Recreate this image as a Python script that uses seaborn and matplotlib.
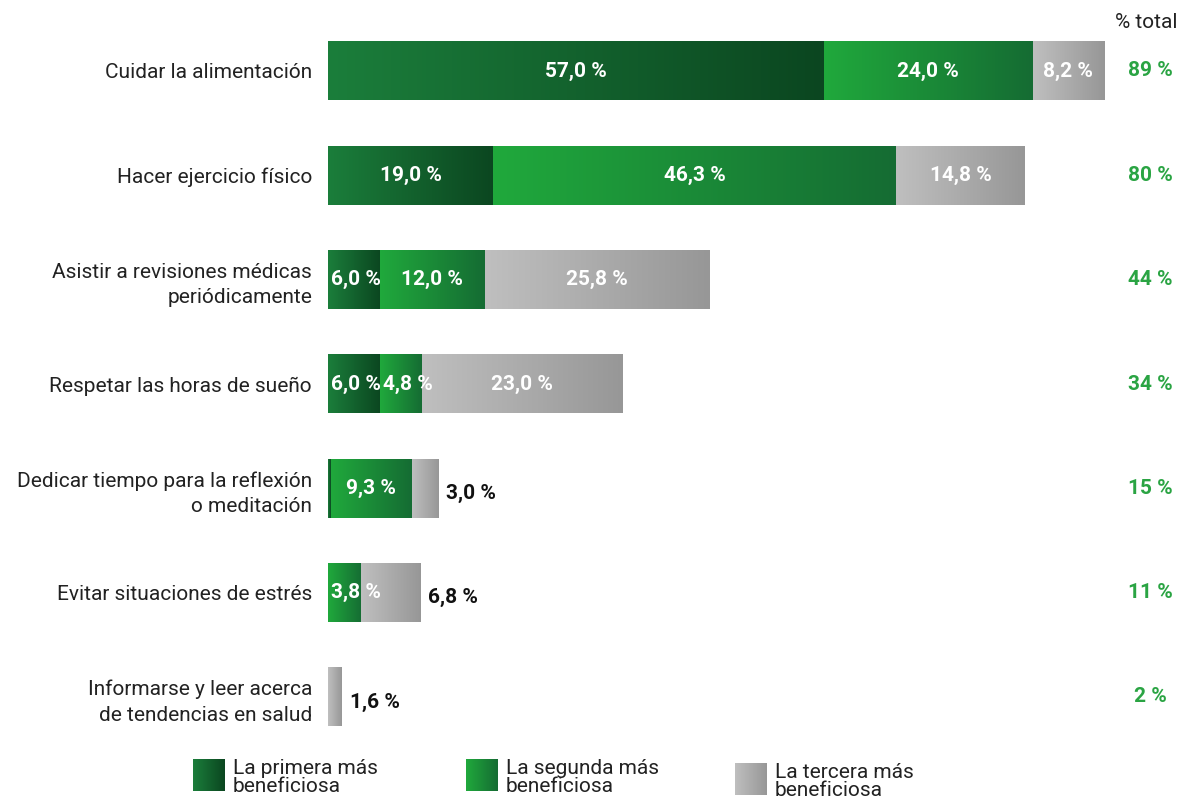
import numpy as np
import matplotlib
matplotlib.use("Agg")
import matplotlib.pyplot as plt
from matplotlib.colors import LinearSegmentedColormap
from matplotlib.transforms import blended_transform_factory
import seaborn as sns

categorias = ["Cuidar la alimentación",
              "Hacer ejercicio físico",
              "Asistir a revisiones médicas\nperiódicamente",
              "Respetar las horas de sueño",
              "Dedicar tiempo para la reflexión\no meditación",
              "Evitar situaciones de estrés",
              "Informarse y leer acerca\nde tendencias en salud"]
primera = [57.0, 19.0, 6.0, 6.0, 0.3, 0.0, 0.0]
segunda = [24.0, 46.3, 12.0, 4.8, 9.3, 3.8, 0.0]
tercera = [8.2, 14.8, 25.8, 23.0, 3.0, 6.8, 1.6]
totales = ["89 %", "80 %", "44 %", "34 %", "15 %", "11 %", "2 %"]
series = ["La primera más\nbeneficiosa", "La segunda más\nbeneficiosa", "La tercera más\nbeneficiosa"]

# degradados de cada serie (izquierda -> derecha)
cmaps = [LinearSegmentedColormap.from_list("c1", ["#1b7e3b", "#0b4620"]),
         LinearSegmentedColormap.from_list("c2", ["#20a93c", "#156c33"]),
         LinearSegmentedColormap.from_list("c3", ["#bfbfbf", "#979797"])]
grad = np.linspace(0, 1, 256).reshape(1, -1)

sns.set_style("white")
plt.rcParams["font.family"] = ["Roboto", "DejaVu Sans"]
FS = 15

W, H = 1181, 799
fig = plt.figure(figsize=(W / 100, H / 100), dpi=100)
ax = fig.add_axes([328 / W, 1 - 759.6 / H, 783 / W, (759.6 - 8.4) / H])

vals = np.array([primera, segunda, tercera])
cum = vals.cumsum(axis=0)
starts = np.vstack([np.zeros(len(categorias)), cum[:-1]])

# barras apiladas: acumulados de mayor a menor
for k in [2, 1, 0]:
    sns.barplot(x=cum[k], y=categorias, orient="h", color=cmaps[k](0.5),
                width=0.56, errorbar=None, linewidth=0, ax=ax)

bh = 0.56
for k in range(3):
    for i in range(len(categorias)):
        v = vals[k, i]
        if v <= 0:
            continue
        x0, x1 = starts[k, i], cum[k, i]
        ax.imshow(grad, cmap=cmaps[k], aspect="auto", zorder=3,
                  extent=[x0, x1, i + bh / 2, i - bh / 2], interpolation="bilinear")
        if v < 1:
            continue
        lab = f"{v:.1f}".replace(".", ",") + " %"
        if k == 2 and v < 8:
            ax.annotate(lab, (x1, i + 0.05), xytext=(8, 0), textcoords="offset pixels",
                        ha="left", va="center", fontsize=FS, fontweight="bold",
                        color="#111111", zorder=4)
        elif v < 7:
            ax.annotate(lab, (x0, i), xytext=(3, 0), textcoords="offset pixels",
                        ha="left", va="center", fontsize=FS, fontweight="bold",
                        color="white", zorder=4)
        else:
            ax.text((x0 + x1) / 2, i, lab, ha="center", va="center", fontsize=FS,
                    fontweight="bold", color="white", zorder=4)

ax.set_xlim(0, 90)
ax.set_ylim(6.6, -0.6)
ax.set_xticks([])
ax.set_xlabel("")
ax.set_ylabel("")
ax.tick_params(axis="y", length=0, pad=11.5, labelsize=FS, labelcolor="#222222")
for t in ax.get_yticklabels():
    t.set_linespacing(1.45)
for s in ax.spines.values():
    s.set_visible(False)

trans = blended_transform_factory(fig.transFigure, ax.transData)
for i, t in enumerate(totales):
    ax.text(1150 / W, i, t, transform=trans, ha="center", va="center",
            fontsize=FS, fontweight="bold", color="#2aa443")
fig.text(1146 / W, 1 - 22 / H, "% total", ha="center", va="center",
         fontsize=FS, color="#222222")

# leyenda
leg_pos = [(193, 759), (466, 759), (735, 763)]
for k, (lx, ly) in enumerate(leg_pos):
    sw = fig.add_axes([lx / W, 1 - (ly + 32) / H, 32 / W, 32 / H])
    sw.imshow(grad, cmap=cmaps[k], aspect="auto", interpolation="bilinear")
    sw.axis("off")
    fig.text((lx + 40) / W, 1 - ly / H, series[k], ha="left", va="top",
             fontsize=FS, color="#222222", linespacing=0.92)

fig.savefig("out.png", dpi=100)
